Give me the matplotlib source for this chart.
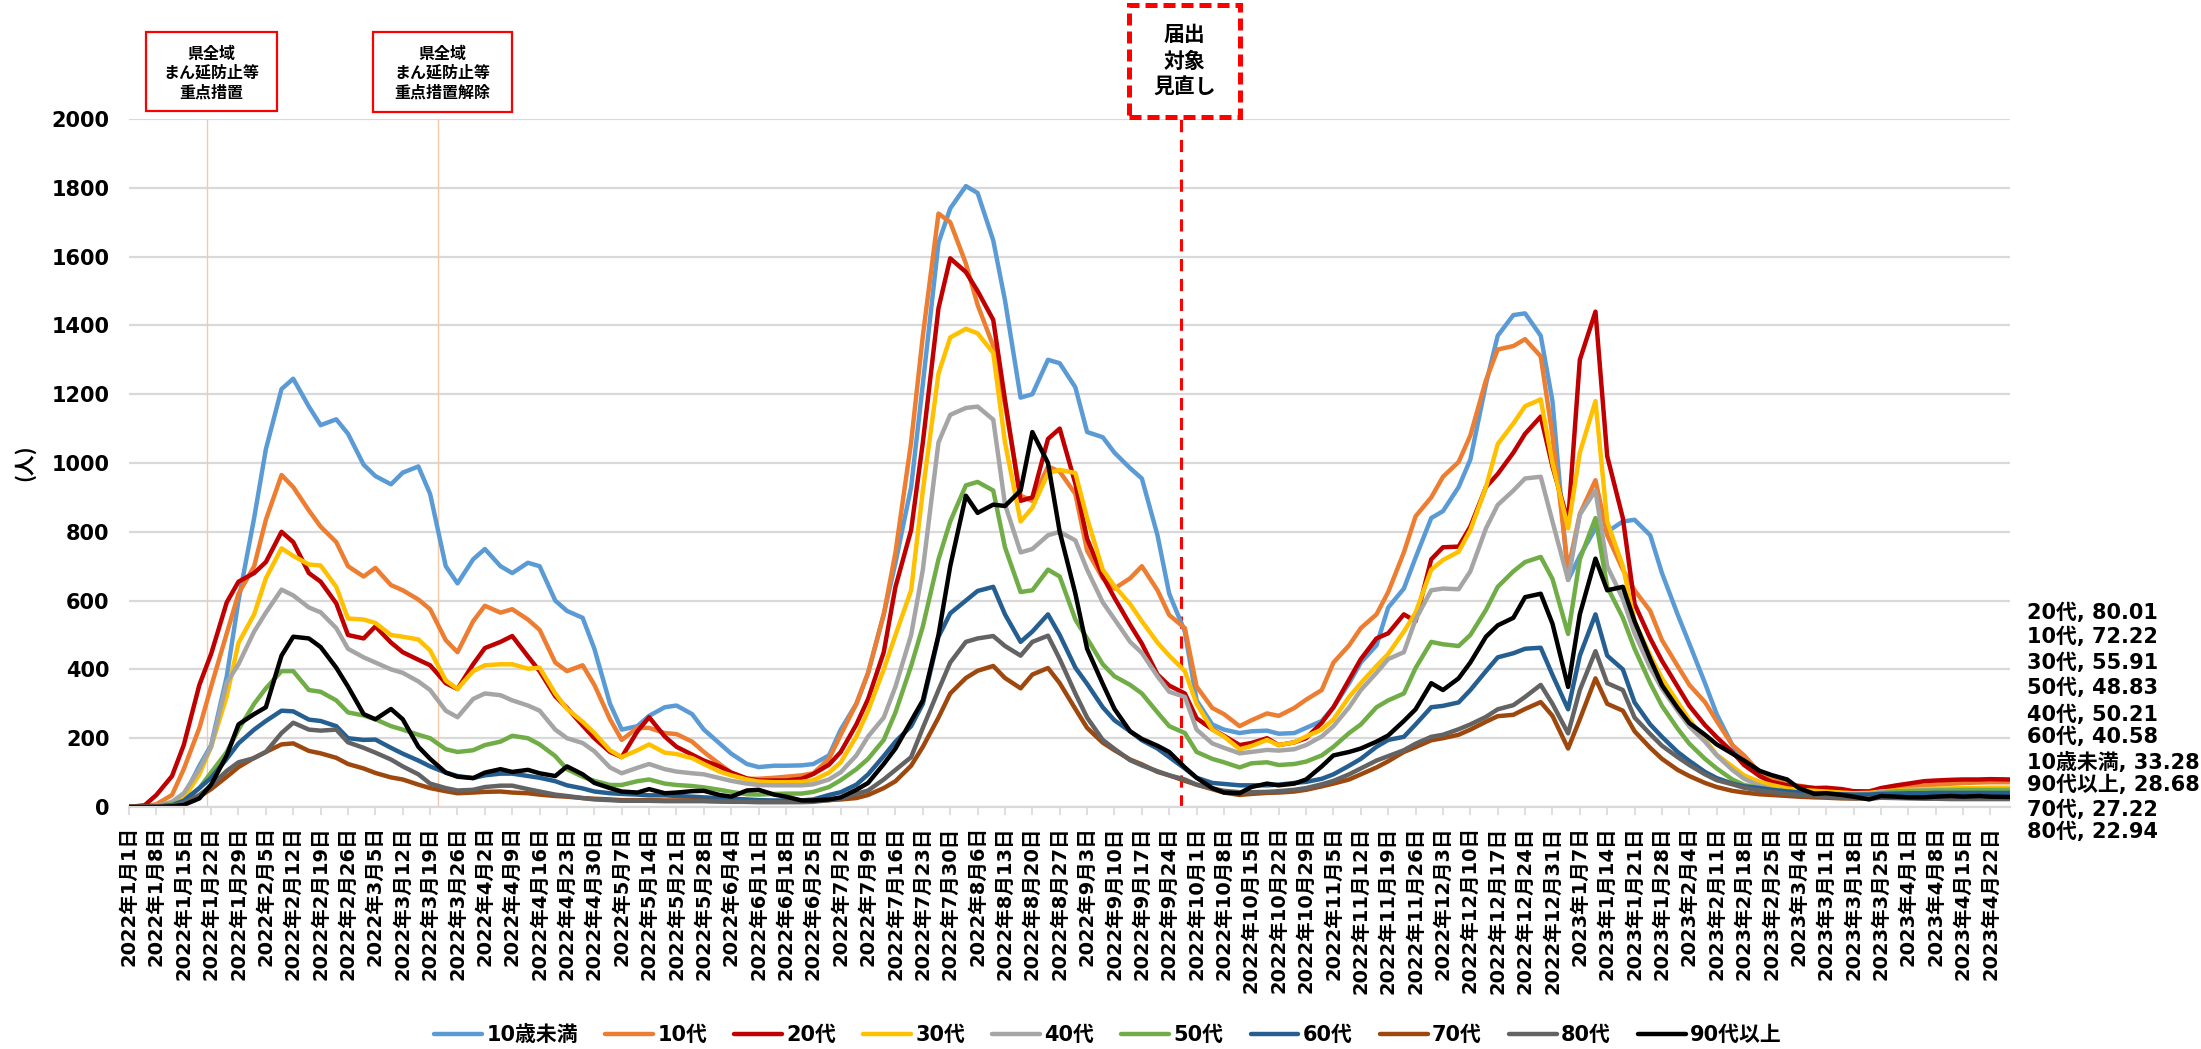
import numpy as np
import pandas as pd
import matplotlib
matplotlib.use("Agg")
import matplotlib.pyplot as plt
from matplotlib.patches import Rectangle

plt.rcParams['font.family'] = ['DejaVu Sans', 'Noto Sans CJK JP']
plt.rcParams['font.weight'] = 'bold'
CJK = ['Noto Sans CJK JP', 'DejaVu Sans']

# ---------------- data ----------------
start_date = '2022-01-01'
# day offsets from start_date at which values were read (every Sat and Wed, plus last day)
sample_days = sorted(set([d for w in range(69) for d in (7 * w, 7 * w + 4)] + [481]))

series_names = ['10歳未満', '10代', '20代', '30代', '40代', '50代', '60代', '70代', '80代', '90代以上']
series_colors = ['#5B9BD5', '#ED7D31', '#C00000', '#FFC000', '#A5A5A5',
                 '#70AD47', '#255E91', '#9E480E', '#636363', '#000000']

under10 = [0, 0, 2, 10, 30, 120, 180, 380, 600, 840,
           1040, 1215, 1245, 1164, 1110, 1127, 1085, 995, 962, 938,
           972, 990, 910, 700, 650, 720, 750, 700, 680, 710,
           700, 600, 570, 550, 460, 300, 225, 235, 265, 290,
           295, 270, 225, 185, 155, 125, 116, 120, 120, 121,
           125, 150, 225, 300, 390, 560, 710, 930, 1230, 1640,
           1740, 1805, 1785, 1647, 1473, 1190, 1200, 1300, 1290, 1220,
           1090, 1075, 1030, 985, 955, 790, 620, 510, 310, 240,
           225, 215, 220, 222, 213, 215, 230, 250, 290, 360,
           420, 470, 580, 635, 725, 840, 860, 930, 1010, 1230,
           1370, 1430, 1435, 1370, 1180, 660, 730, 810, 800, 830,
           835, 790, 680, 560, 475, 360, 270, 180, 135, 90,
           72, 58, 55, 50, 47, 42, 40, 40, 40, 38,
           37, 36, 35, 35, 34, 34, 34, 33, 33]
teens = [0, 1, 8, 35, 110, 230, 350, 505, 620, 700,
         835, 965, 930, 862, 815, 770, 700, 670, 695, 645,
         630, 603, 575, 485, 450, 540, 585, 565, 575, 545,
         515, 420, 395, 412, 355, 255, 195, 230, 230, 215,
         212, 190, 160, 125, 100, 82, 82, 85, 88, 92,
         98, 140, 210, 300, 390, 560, 740, 1060, 1370, 1725,
         1700, 1580, 1460, 1340, 1170, 905, 890, 990, 975, 910,
         745, 665, 635, 665, 700, 630, 558, 520, 350, 288,
         270, 235, 252, 272, 265, 288, 312, 340, 420, 470,
         520, 560, 625, 740, 845, 900, 960, 1003, 1080, 1241,
         1330, 1340, 1360, 1310, 1080, 690, 852, 950, 790, 690,
         630, 570, 485, 410, 355, 305, 250, 180, 150, 100,
         82, 68, 62, 55, 52, 47, 45, 46, 50, 55,
         58, 62, 65, 68, 70, 71, 72, 72, 72]
twenties = [0, 5, 35, 90, 180, 355, 445, 595, 655, 680,
            712, 800, 770, 680, 655, 592, 500, 490, 525, 478,
            450, 428, 412, 360, 343, 415, 462, 480, 497, 438,
            395, 322, 288, 237, 200, 160, 145, 220, 261, 205,
            175, 152, 135, 118, 100, 83, 77, 77, 77, 82,
            96, 123, 160, 240, 314, 450, 640, 805, 1060, 1450,
            1595, 1555, 1500, 1416, 1184, 890, 900, 1070, 1100, 940,
            780, 670, 608, 530, 475, 385, 353, 330, 258, 226,
            207, 180, 186, 200, 180, 188, 200, 245, 290, 370,
            430, 490, 505, 560, 540, 720, 755, 757, 815, 930,
            968, 1030, 1085, 1135, 990, 830, 1300, 1440, 1020, 840,
            590, 490, 425, 350, 294, 238, 203, 160, 122, 90,
            73, 63, 60, 55, 56, 52, 46, 45, 55, 63,
            68, 75, 77, 79, 80, 80, 81, 80, 80]
thirties = [0, 0, 3, 10, 25, 95, 175, 322, 477, 560,
            665, 752, 730, 705, 702, 640, 548, 545, 535, 500,
            495, 487, 455, 368, 343, 395, 412, 415, 415, 402,
            405, 330, 285, 248, 215, 165, 145, 165, 182, 158,
            154, 142, 125, 103, 92, 80, 74, 72, 72, 73,
            78, 100, 130, 205, 280, 400, 500, 630, 920, 1260,
            1365, 1390, 1377, 1320, 1060, 830, 870, 970, 980, 971,
            840, 690, 642, 590, 540, 478, 440, 395, 300, 225,
            205, 168, 177, 195, 180, 188, 205, 225, 255, 320,
            360, 410, 445, 510, 565, 690, 718, 742, 805, 930,
            1055, 1115, 1165, 1185, 1000, 810, 1030, 1180, 830, 700,
            540, 440, 374, 305, 254, 196, 152, 118, 92, 73,
            64, 54, 50, 47, 45, 42, 40, 41, 45, 48,
            50, 52, 53, 54, 55, 55, 56, 56, 56]
forties = [0, 0, 3, 15, 40, 110, 175, 361, 415, 510,
           565, 632, 615, 580, 566, 520, 460, 435, 420, 400,
           390, 365, 340, 280, 261, 314, 330, 325, 310, 295,
           280, 225, 200, 186, 162, 115, 98, 114, 125, 110,
           103, 98, 95, 84, 76, 68, 64, 63, 63, 63,
           66, 80, 101, 150, 205, 260, 350, 500, 690, 1060,
           1140, 1160, 1164, 1126, 880, 740, 750, 790, 800, 775,
           690, 595, 546, 480, 448, 380, 335, 320, 225, 185,
           172, 156, 160, 166, 164, 168, 180, 205, 235, 290,
           340, 390, 430, 450, 545, 630, 635, 633, 685, 810,
           878, 920, 955, 960, 830, 660, 850, 920, 700, 605,
           505, 405, 344, 280, 234, 190, 150, 108, 82, 62,
           52, 45, 42, 40, 38, 36, 35, 38, 44, 46,
           47, 48, 49, 50, 50, 50, 50, 50, 50]
fifties = [0, 0, 2, 8, 18, 55, 100, 160, 225, 300,
           345, 395, 395, 340, 335, 310, 275, 266, 255, 235,
           225, 210, 200, 168, 160, 165, 180, 190, 207, 200,
           182, 148, 110, 88, 76, 64, 64, 75, 80, 68,
           64, 61, 57, 50, 44, 37, 36, 38, 39, 39,
           44, 58, 78, 110, 140, 195, 275, 410, 525, 720,
           830, 935, 945, 920, 755, 625, 630, 690, 670, 545,
           490, 415, 380, 355, 330, 275, 235, 215, 160, 140,
           130, 115, 127, 130, 122, 125, 132, 150, 175, 215,
           240, 290, 310, 330, 404, 480, 473, 468, 500, 573,
           640, 685, 712, 727, 663, 503, 720, 840, 640, 550,
           460, 360, 294, 228, 184, 140, 112, 80, 64, 55,
           50, 46, 42, 38, 36, 35, 35, 35, 40, 45,
           46, 47, 48, 48, 49, 49, 49, 49, 49]
sixties = [0, 0, 1, 5, 18, 55, 85, 140, 185, 225,
           250, 280, 278, 254, 250, 235, 200, 195, 196, 172,
           155, 135, 118, 100, 90, 84, 92, 97, 97, 90,
           85, 75, 63, 54, 45, 40, 38, 36, 34, 34,
           32, 30, 28, 26, 24, 22, 20, 19, 19, 19,
           22, 35, 43, 65, 95, 148, 190, 235, 300, 495,
           563, 600, 628, 640, 560, 480, 510, 560, 500, 405,
           358, 290, 252, 220, 194, 170, 145, 112, 85, 70,
           67, 63, 63, 63, 65, 70, 73, 82, 95, 120,
           140, 175, 195, 204, 240, 290, 294, 304, 340, 395,
           435, 447, 460, 463, 384, 284, 440, 560, 440, 400,
           304, 240, 204, 160, 134, 102, 84, 68, 60, 55,
           50, 45, 42, 40, 39, 37, 36, 36, 38, 39,
           40, 40, 41, 41, 41, 41, 41, 41, 41]
seventies = [0, 0, 1, 4, 10, 30, 52, 88, 116, 143,
             160, 182, 185, 163, 156, 143, 125, 112, 99, 86,
             80, 65, 55, 46, 40, 42, 44, 45, 42, 40,
             36, 32, 30, 26, 24, 22, 20, 20, 20, 19,
             19, 19, 18, 17, 16, 15, 15, 15, 15, 16,
             18, 20, 22, 26, 35, 55, 75, 120, 175, 260,
             330, 375, 396, 410, 375, 345, 385, 404, 360, 285,
             230, 187, 165, 138, 124, 102, 92, 76, 65, 52,
             42, 35, 38, 41, 42, 45, 50, 60, 68, 80,
             95, 115, 133, 160, 174, 194, 200, 210, 225, 248,
             264, 268, 285, 305, 265, 170, 255, 374, 300, 280,
             220, 172, 140, 108, 90, 70, 58, 47, 42, 37,
             35, 32, 30, 28, 27, 25, 25, 25, 27, 28,
             28, 28, 28, 27, 27, 27, 27, 27, 27]
eighties = [0, 0, 1, 4, 12, 35, 62, 105, 130, 142,
            160, 215, 245, 225, 222, 225, 188, 172, 158, 138,
            118, 95, 68, 55, 48, 50, 58, 62, 62, 52,
            45, 36, 32, 26, 22, 20, 18, 18, 18, 17,
            17, 17, 17, 16, 15, 15, 14, 14, 14, 14,
            15, 20, 25, 38, 48, 80, 108, 145, 230, 340,
            420, 480, 490, 497, 468, 440, 480, 498, 430, 330,
            260, 195, 169, 136, 121, 104, 92, 80, 65, 54,
            47, 43, 43, 44, 46, 50, 55, 66, 76, 95,
            112, 135, 148, 165, 184, 204, 210, 226, 240, 262,
            284, 296, 320, 355, 300, 214, 340, 453, 360, 340,
            260, 212, 178, 145, 122, 95, 78, 66, 56, 48,
            44, 38, 35, 32, 30, 27, 25, 25, 27, 26,
            25, 24, 24, 23, 23, 23, 23, 23, 23]
over90 = [0, 0, 0, 2, 6, 25, 65, 150, 240, 270,
          290, 440, 495, 490, 465, 405, 350, 270, 255, 285,
          255, 175, 140, 100, 88, 84, 100, 110, 102, 108,
          98, 90, 118, 95, 70, 55, 45, 42, 52, 40,
          42, 46, 47, 35, 30, 48, 50, 36, 30, 19,
          19, 22, 28, 50, 70, 125, 170, 250, 310, 500,
          700, 905, 855, 879, 875, 920, 1090, 1000, 800, 620,
          460, 358, 285, 220, 198, 178, 160, 115, 85, 55,
          42, 40, 58, 68, 63, 68, 80, 118, 150, 160,
          170, 190, 208, 250, 284, 360, 340, 374, 420, 495,
          528, 550, 610, 620, 533, 349, 560, 722, 630, 640,
          540, 430, 354, 288, 244, 210, 182, 155, 135, 105,
          93, 80, 55, 38, 40, 35, 30, 22, 32, 30,
          28, 28, 30, 32, 30, 32, 30, 29, 29]

series_values = [under10, teens, twenties, thirties, forties,
                 fifties, sixties, seventies, eighties, over90]

# end-of-series data labels, in the order they are stacked on the right
end_label_names = ['20代', '10代', '30代', '50代', '40代', '60代', '10歳未満', '90代以上', '70代', '80代']
end_label_values = [80.01, 72.22, 55.91, 48.83, 50.21, 40.58, 33.28, 28.68, 27.22, 22.94]

event_dates = ['2022-01-21', '2022-03-21']
event_texts = ['県全域\nまん延防止等\n重点措置', '県全域\nまん延防止等\n重点措置解除']
review_date = '2022-09-27'
review_text = '届出\n対象\n見直し'
y_ticks = [0, 200, 400, 600, 800, 1000, 1200, 1400, 1600, 1800, 2000]

# ---------------- figure ----------------
W, H = 2201, 1049
fig = plt.figure(figsize=(W / 100, H / 100), dpi=100)
ax = fig.add_axes([129 / W, 1 - 807 / H, (2010 - 129) / W, (807 - 119) / H])

dates = pd.Timestamp(start_date) + pd.to_timedelta(sample_days, unit='D')

for ed in event_dates:
    ax.axvline(pd.Timestamp(ed), color='#F6C7A8', lw=1.0, zorder=1)
ax.axvline(pd.Timestamp(review_date), color='#FF0000', lw=2.2, dashes=(4, 2.5), zorder=1.5)

lines = []
for name, col, vals in zip(series_names, series_colors, series_values):
    ln, = ax.plot(dates, vals, color=col, lw=3.2, label=name, zorder=2,
                  solid_joinstyle='round', solid_capstyle='round')
    lines.append(ln)

ax.set_xlim(dates[0], dates[-1])
ax.set_ylim(0, 2000)
ax.set_yticks(y_ticks)
ax.set_yticklabels([str(v) for v in y_ticks])
ax.grid(axis='y', color='#D9D9D9', lw=1.6, zorder=0)
ax.set_axisbelow(True)
for s in ['top', 'right', 'left']:
    ax.spines[s].set_visible(False)
ax.spines['bottom'].set_color('#D9D9D9')
ax.spines['bottom'].set_linewidth(1.6)

tick_dates = pd.date_range(start_date, dates[-1], freq='7D')
ax.set_xticks(tick_dates)
ax.set_xticklabels([f"{d.year}年{d.month}月{d.day}日" for d in tick_dates],
                   rotation=90, fontsize=14, fontweight='bold')
ax.tick_params(axis='x', length=6, color='#D9D9D9', width=1.2, pad=8)
ax.tick_params(axis='y', length=0, pad=14, labelsize=15)
for lab in ax.get_yticklabels():
    lab.set_fontweight('bold')

# y-axis unit label
fig.text(24 / W, 1 - 463 / H, '(人)', rotation=90, fontsize=15, fontweight='bold',
         ha='center', va='center', family=CJK)

# annotation boxes (figure pixel geometry)
box_px = [(146, 32, 277, 111), (373, 32, 512, 112)]
for (x0, y0, x1, y1), txt in zip(box_px, event_texts):
    fig.add_artist(Rectangle((x0 / W, 1 - y1 / H), (x1 - x0) / W, (y1 - y0) / H,
                             transform=fig.transFigure, fill=False,
                             edgecolor='#FF0000', lw=1.6))
    fig.text((x0 + x1) / 2 / W, 1 - 73 / H, txt, ha='center', va='center',
             fontsize=11.5, fontweight='bold', linespacing=1.25, family=CJK)

fig.add_artist(Rectangle((1129 / W, 1 - 117 / H), (1240 - 1129) / W, (117 - 5) / H,
                         transform=fig.transFigure, fill=False, edgecolor='#FF0000',
                         lw=3.6, linestyle=(0, (2.4, 1.2))))
fig.text(1184.5 / W, 1 - 61 / H, review_text, ha='center', va='center',
         fontsize=15, fontweight='bold', linespacing=1.3, family=CJK)

# end labels on the right
label_y_px = [613, 637, 663, 688, 715, 737, 762, 785, 810, 832]
for nm, val, ypx in zip(end_label_names, end_label_values, label_y_px):
    fig.text(2027 / W, 1 - ypx / H, f"{nm}, {val:.2f}", fontsize=15,
             fontweight='bold', ha='left', va='center')

fig.legend(lines, series_names, loc='center', bbox_to_anchor=(0.5034, 0.0135),
           ncol=10, frameon=False, handlelength=2.3,
           handletextpad=0.2, columnspacing=1.3, prop={'weight': 'bold', 'size': 15})

fig.savefig('out.png', dpi=100)
